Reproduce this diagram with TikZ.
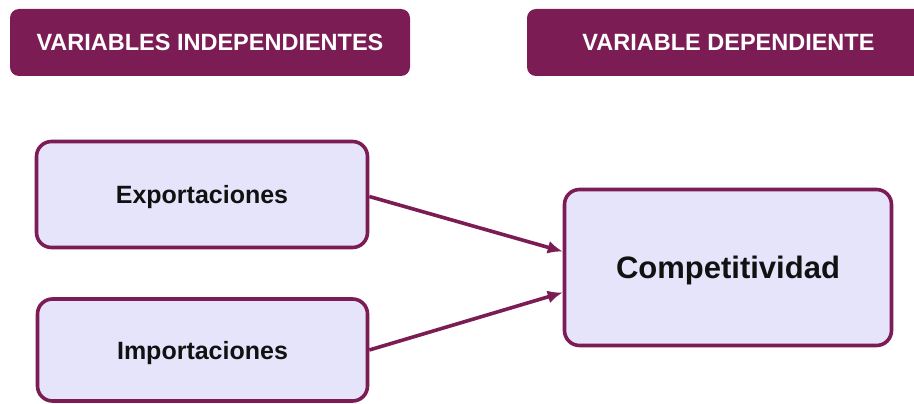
\documentclass[tikz,border=0pt]{standalone}
\usepackage{fontspec}
\setmainfont{Liberation Sans}
\usetikzlibrary{arrows.meta,calc}
\definecolor{plum}{HTML}{7B1D54}
\definecolor{lav}{HTML}{E5E4FA}
\definecolor{ink}{HTML}{111111}
\tikzset{
  header/.style={draw=none, fill=plum, rounded corners=9pt, text=white,
    font=\fontsize{23.5}{26}\selectfont\bfseries, inner sep=0pt},
  varbox/.style={draw=plum, line width=3.6pt, fill=lav, rounded corners=15pt,
    text=ink, inner sep=0pt, text depth=0pt},
  link/.style={draw=plum, line width=3.6pt, -{Latex[length=15pt,width=13pt]}}
}
\begin{document}
\begin{tikzpicture}[x=1pt,y=-1pt]
\useasboundingbox (0,0) rectangle (914,404);
\node[header, minimum width=400pt, minimum height=67pt] (h1) at (210,42.5) {VARIABLES INDEPENDIENTES};
\node[header, minimum width=403pt, minimum height=67pt] (h2) at (728.5,42.5) {VARIABLE DEPENDIENTE};
\node[varbox, minimum width=331pt, minimum height=106pt, font=\fontsize{25}{28}\selectfont\bfseries] (e) at (202,194.5) {Exportaciones};
\node[varbox, minimum width=330pt, minimum height=102pt, font=\fontsize{25}{28}\selectfont\bfseries] (i) at (202.5,350) {Importaciones};
\node[varbox, minimum width=327pt, minimum height=156pt, font=\fontsize{31}{34}\selectfont\bfseries] (c) at (728,267.5) {Competitividad};
\draw[link] ($(e.east)+(0,2)$) -- ($(c.west)+(0,-16)$);
\draw[link] (i.east) -- ($(c.west)+(0,25)$);
\end{tikzpicture}
\end{document}
